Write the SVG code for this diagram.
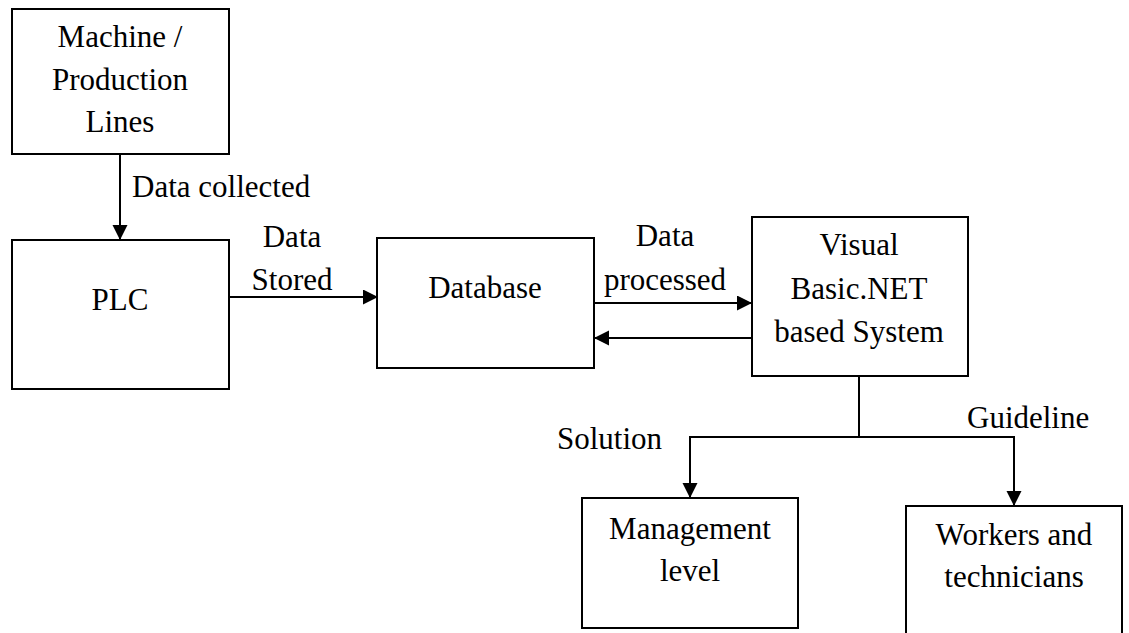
<svg xmlns="http://www.w3.org/2000/svg" width="1129" height="633" viewBox="0 0 1129 633">
<style>
.box{fill:#fff;stroke:#000;stroke-width:2}
.ln{fill:none;stroke:#000;stroke-width:2}
text{font-family:"Liberation Serif","Times New Roman",serif;font-size:31px;fill:#000}
.c{text-anchor:middle}
</style>
<defs>
<marker id="ah" markerUnits="userSpaceOnUse" markerWidth="16" markerHeight="16" refX="15" refY="7.5" orient="auto">
<path d="M0,0 L15,7.5 L0,15 z" fill="#000"/>
</marker>
</defs>
<rect width="1129" height="633" fill="#fff"/>
<g id="machine">
<rect class="box" x="12" y="9" width="217" height="145"/>
<text class="c" x="120" y="47">Machine /</text>
<text class="c" x="120" y="90">Production</text>
<text class="c" x="120" y="132">Lines</text>
</g>
<g id="plc">
<rect class="box" x="12" y="240" width="217" height="149"/>
<text class="c" x="120" y="310">PLC</text>
</g>
<g id="database">
<rect class="box" x="377" y="238" width="217" height="130"/>
<text class="c" x="485" y="298">Database</text>
</g>
<g id="vbsystem">
<rect class="box" x="752" y="217" width="216" height="159"/>
<text class="c" x="859" y="255">Visual</text>
<text class="c" x="859" y="299">Basic.NET</text>
<text class="c" x="859" y="342">based System</text>
</g>
<g id="management">
<rect class="box" x="582" y="498" width="216" height="130"/>
<text class="c" x="690" y="539">Management</text>
<text class="c" x="690" y="581">level</text>
</g>
<g id="workers">
<path class="box" d="M906,650 L906,506 L1122,506 L1122,650"/>
<text class="c" x="1014" y="545">Workers and</text>
<text class="c" x="1014" y="587">technicians</text>
</g>
<g id="connectors">
<line class="ln" x1="120" y1="154" x2="120" y2="240" marker-end="url(#ah)"/>
<line class="ln" x1="229" y1="297" x2="378" y2="297" marker-end="url(#ah)"/>
<line class="ln" x1="594" y1="303" x2="752" y2="303" marker-end="url(#ah)"/>
<line class="ln" x1="752" y1="338" x2="594" y2="338" marker-end="url(#ah)"/>
<polyline class="ln" points="859,376 859,437"/>
<polyline class="ln" points="859,437 690,437 690,498" marker-end="url(#ah)"/>
<polyline class="ln" points="859,437 1014,437 1014,506" marker-end="url(#ah)"/>
<text x="132" y="197">Data collected</text>
<text class="c" x="292" y="247">Data</text>
<text class="c" x="292" y="290">Stored</text>
<text class="c" x="665" y="246">Data</text>
<text class="c" x="665" y="290">processed</text>
<text x="557" y="449">Solution</text>
<text x="967" y="428">Guideline</text>
</g>
</svg>
